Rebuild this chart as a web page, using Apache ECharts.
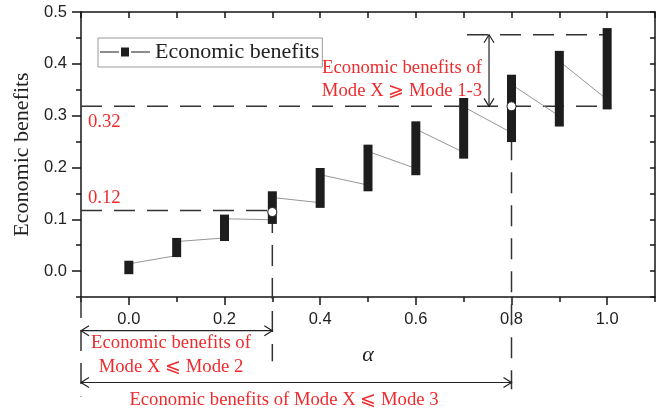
<!DOCTYPE html>
<html><head><meta charset="utf-8">
<script src="https://cdn.jsdelivr.net/npm/echarts@6/dist/echarts.min.js"></script>
<style>html,body{margin:0;padding:0;background:#fff}#c{width:659px;height:413px}</style>
</head><body><div id="c"></div>
<script>
// ---- data ----
const alpha = [0, 0.1, 0.2, 0.3, 0.4, 0.5, 0.6, 0.7, 0.8, 0.9, 1.0];
const benefitLow  = [-0.006, 0.027, 0.058, 0.091, 0.122, 0.154, 0.185, 0.217, 0.249, 0.279, 0.312];
const benefitHigh = [0.020, 0.064, 0.109, 0.154, 0.199, 0.244, 0.289, 0.334, 0.379, 0.425, 0.469];
const linkFrom = [0.014, 0.057, 0.101, 0.142, 0.186, 0.231, 0.274, 0.317, 0.360, 0.405]; // leaves bar i
const linkTo   = [0.030, 0.064, 0.099, 0.132, 0.166, 0.198, 0.229, 0.267, 0.299, 0.331]; // reaches bar i+1
const markedPoints = [[0.3, 0.114], [0.8, 0.318]];
const xMajorTicks = [0, 0.2, 0.4, 0.6, 0.8, 1.0];
const xMinorTicks = [-0.1, 0.1, 0.3, 0.5, 0.7, 0.9, 1.1];
const xAllTicks = [-0.1, 0, 0.1, 0.2, 0.3, 0.4, 0.5, 0.6, 0.7, 0.8, 0.9, 1.0, 1.1];
const yMajorTicks = [0, 0.1, 0.2, 0.3, 0.4, 0.5];
const yMinorTicks = [-0.05, 0.05, 0.15, 0.25, 0.35, 0.45];
const yAllTicks = [-0.05, 0, 0.05, 0.1, 0.15, 0.2, 0.25, 0.3, 0.35, 0.4, 0.45, 0.5];
const level012 = 0.117;
const level032 = 0.318;
const levelTop = 0.456;
// guides: [x1, y1, x2, y2, kind]  kind 0 = dashed, 1 = double arrow
const guides = [
  [-0.1, level012, 0.3, level012, 0],
  [-0.1, level032, 1.0, level032, 0],
  [0.707, levelTop, 1.0, levelTop, 0],
  [0.3, 0.114, 0.3, -0.174, 0],
  [0.8, 0.318, 0.8, -0.228, 0],
  [-0.1, -0.05, -0.1, -0.242, 0],
  [0.753, levelTop, 0.753, level032, 1],
  [-0.1, -0.115, 0.3, -0.115, 1],
  [-0.1, -0.215, 0.8, -0.215, 1]
];

const linkData = [];
for (let i = 0; i < alpha.length - 1; i++) {
  linkData.push([alpha[i], linkFrom[i]]);
  linkData.push([alpha[i + 1], linkTo[i]]);
}

const RED = '#ee2b2d';
const AX = '#151515';
const serif = '"Liberation Serif", "DejaVu Serif", serif';
const sans = '"Liberation Sans", Arial, sans-serif';

const chart = echarts.init(document.getElementById('c'), null, {renderer: 'canvas'});

function txt(text, x, y, align) {
  return {type: 'text', x: x, y: y, z: 50, style: {text: text, fill: RED,
    font: '18.7px ' + serif, align: align, verticalAlign: 'middle'}};
}

chart.setOption({
  animation: false,
  backgroundColor: '#fff',
  grid: {left: 81, right: 4, top: 12, bottom: 116},
  legend: {
    left: 98, top: 38, padding: [3, 3, 4, 2], borderColor: '#999', borderWidth: 1,
    itemWidth: 50, itemHeight: 9, selectedMode: false,
    textStyle: {fontFamily: serif, fontSize: 22, color: '#222'},
    data: [{name: 'Economic benefits',
      icon: 'path://M0,4 L19,4 L19,5 L0,5 Z M21,0 L29,0 L29,9 L21,9 Z M31,4 L50,4 L50,5 L31,5 Z',
      itemStyle: {color: '#1e1c1c'}}]
  },
  xAxis: [
    {type: 'value', min: -0.1, max: 1.1, position: 'bottom',
     axisLine: {show: true, onZero: false, lineStyle: {color: AX, width: 1.5}},
     axisTick: {show: true, customValues: xMajorTicks, length: 8, lineStyle: {color: AX, width: 1.5}},
     axisLabel: {customValues: xMajorTicks, formatter: v => v.toFixed(1), fontFamily: sans,
       fontSize: 16.5, color: '#222', margin: 14},
     splitLine: {show: false},
     name: 'α', nameLocation: 'middle', nameGap: 47,
     nameTextStyle: {fontFamily: serif, fontStyle: 'italic', fontSize: 22, color: '#222'}},
    {type: 'value', min: -0.1, max: 1.1, position: 'bottom',
     axisLine: {show: false, onZero: false},
     axisTick: {show: true, customValues: xMinorTicks, length: 5, lineStyle: {color: AX, width: 1.5}},
     axisLabel: {show: false}, splitLine: {show: false}},
    {type: 'value', min: -0.1, max: 1.1, position: 'top',
     axisLine: {show: true, onZero: false, lineStyle: {color: AX, width: 1.5}},
     axisTick: {show: true, inside: true, customValues: xAllTicks, length: 6, lineStyle: {color: AX, width: 1.5}},
     axisLabel: {show: false}, splitLine: {show: false}}
  ],
  yAxis: [
    {type: 'value', min: -0.05, max: 0.5, position: 'left',
     axisLine: {show: true, onZero: false, lineStyle: {color: AX, width: 1.5}},
     axisTick: {show: true, customValues: yMajorTicks, length: 9, lineStyle: {color: AX, width: 1.5}},
     axisLabel: {customValues: yMajorTicks, formatter: v => v.toFixed(1), fontFamily: sans,
       fontSize: 16.5, color: '#222', margin: 14},
     splitLine: {show: false},
     name: 'Economic benefits', nameLocation: 'middle', nameGap: 45, nameRotate: 90,
     nameTextStyle: {fontFamily: serif, fontSize: 22, color: '#222'}},
    {type: 'value', min: -0.05, max: 0.5, position: 'left',
     axisLine: {show: false, onZero: false},
     axisTick: {show: true, customValues: yMinorTicks, length: 5, lineStyle: {color: AX, width: 1.5}},
     axisLabel: {show: false}, splitLine: {show: false}},
    {type: 'value', min: -0.05, max: 0.5, position: 'right',
     axisLine: {show: true, onZero: false, lineStyle: {color: AX, width: 1.5}},
     axisTick: {show: true, inside: true, customValues: yAllTicks, length: 5, lineStyle: {color: AX, width: 1.5}},
     axisLabel: {show: false}, splitLine: {show: false}}
  ],
  series: [
    {type: 'custom', name: 'guides', xAxisIndex: 0, yAxisIndex: 0, z: 1, clip: false,
     silent: true, data: guides, encode: {x: [0, 2], y: [1, 3]},
     renderItem: function (params, api) {
       const a = api.coord([api.value(0), api.value(1)]);
       const b = api.coord([api.value(2), api.value(3)]);
       const kind = api.value(4);
       if (kind === 0) {
         return {type: 'line', shape: {x1: a[0], y1: a[1], x2: b[0], y2: b[1]},
           style: {stroke: '#333', lineWidth: 1.5, lineDash: [21, 12]}};
       }
       const dx = b[0] - a[0], dy = b[1] - a[1];
       const len = Math.sqrt(dx * dx + dy * dy);
       const ux = dx / len, uy = dy / len, nx = -uy, ny = ux;
       const L = 8, H = 5;
       const st = {stroke: '#222', lineWidth: 1.2, fill: null};
       return {type: 'group', children: [
         {type: 'line', shape: {x1: a[0], y1: a[1], x2: b[0], y2: b[1]}, style: st},
         {type: 'polyline', shape: {points: [[b[0] - L * ux + H * nx, b[1] - L * uy + H * ny], [b[0], b[1]],
           [b[0] - L * ux - H * nx, b[1] - L * uy - H * ny]]}, style: st},
         {type: 'polyline', shape: {points: [[a[0] + L * ux + H * nx, a[1] + L * uy + H * ny], [a[0], a[1]],
           [a[0] + L * ux - H * nx, a[1] + L * uy - H * ny]]}, style: st}
       ]};
     }},
    {type: 'line', name: 'link', xAxisIndex: 0, yAxisIndex: 0, z: 2, data: linkData,
     symbol: 'none', lineStyle: {color: '#8a8a8a', width: 0.9}, silent: true},
    {type: 'custom', name: 'Economic benefits', xAxisIndex: 0, yAxisIndex: 0, z: 3,
     itemStyle: {color: '#1e1c1c'},
     data: alpha.map((a, i) => [a, benefitLow[i], benefitHigh[i]]),
     encode: {x: 0, y: [1, 2]},
     renderItem: function (params, api) {
       const x = api.value(0);
       const top = api.coord([x, api.value(2)]);
       const bot = api.coord([x, api.value(1)]);
       const w = 9;
       return {type: 'rect', shape: {x: top[0] - w / 2, y: top[1], width: w, height: bot[1] - top[1]},
         style: {fill: '#1e1c1c'}};
     }},
    {type: 'scatter', name: 'marked', xAxisIndex: 0, yAxisIndex: 0, z: 4, data: markedPoints,
     symbol: 'circle', symbolSize: 9, silent: true,
     itemStyle: {color: '#ffffff', opacity: 1, borderColor: '#222', borderWidth: 1}}
  ],
  graphic: [
    txt('0.32', 88, 122, 'left'),
    txt('0.12', 88, 198, 'left'),
    txt('Economic benefits of', 402, 68, 'center'),
    txt('Mode X \u2A7E Mode 1-3', 402, 91, 'center'),
    txt('Economic benefits of', 171, 343, 'center'),
    txt('Mode X \u2A7D Mode 2', 171, 367, 'center'),
    txt('Economic benefits of Mode X \u2A7D Mode 3', 284, 400, 'center')
  ]
});
</script>
</body></html>
